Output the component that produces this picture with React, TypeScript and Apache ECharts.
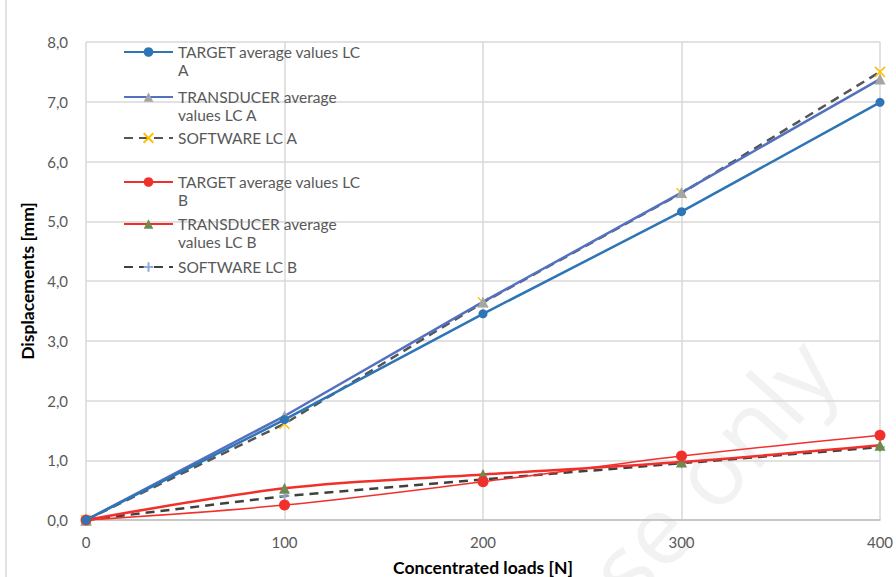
import React, { useEffect, useRef } from "react";
import * as echarts from "echarts";

const loads = [0, 100, 200, 300, 400];
const targetA = [0, 1.68, 3.45, 5.16, 6.99];
const transducerA = [0, 1.74, 3.65, 5.48, 7.38];
const softwareA = [0, 1.61, 3.64, 5.47, 7.5];
const targetB = [0, 0.25, 0.64, 1.07, 1.42];
const transducerB = [0, 0.53, 0.76, 0.97, 1.25];
const softwareB = [0, 0.4, 0.68, 0.95, 1.22];

const seriesNames = [
  "TARGET average values LC A",
  "TARGET average values LC B",
  "TRANSDUCER average values LC A",
  "TRANSDUCER average values LC B",
  "SOFTWARE LC A",
  "SOFTWARE LC B",
];
const legendOrder = [0, 2, 4, 1, 3, 5];
const legendLabels = [
  "TARGET average values LC\nA",
  "TARGET average values LC\nB",
  "TRANSDUCER average\nvalues LC A",
  "TRANSDUCER average\nvalues LC B",
  "SOFTWARE LC A",
  "SOFTWARE LC B",
];
const legendY = [52, 97, 138, 182, 224, 267];

const yTicks = [0, 1, 2, 3, 4, 5, 6, 7, 8];

const FONT = "Lato, 'Open Sans', sans-serif";

const X_PATH = "path://M0 0L10 10M10 0L0 10";
const PLUS_PATH = "path://M5 0L5 10M0 5L10 5";

export default function App() {
  const ref = useRef<HTMLDivElement>(null);
  useEffect(() => {
    if (!ref.current) return;
    const chart = echarts.init(ref.current, undefined, { renderer: "svg" });
    const pair = (arr: number[]) => loads.map((x, i) => [x, arr[i]]);
    const values = [targetA, targetB, transducerA, transducerB, softwareA, softwareB];
    const styles = [
      { color: "#2e75b6", width: 2.5, type: "solid", symbol: "circle", size: 9, mColor: "#2e75b6", border: 0 },
      { color: "#f2302b", width: 1.5, type: "solid", symbol: "circle", size: 11, mColor: "#f2302b", border: 0 },
      { color: "#5470c1", width: 2.5, type: "solid", symbol: "triangle", size: 11, mColor: "#a5a5a5", border: 0 },
      { color: "#f2302b", width: 2.5, type: "solid", symbol: "triangle", size: 11, mColor: "#6f8a4e", border: 0 },
      { color: "#555555", width: 2.5, type: [9, 6], symbol: X_PATH, size: 10, mColor: "#ffc000", border: 1.5 },
      { color: "#404040", width: 2.5, type: [9, 6], symbol: PLUS_PATH, size: 10, mColor: "#8faadc", border: 1.5 },
    ];
    const series = values.map((arr, i) => {
      const s = styles[i];
      return {
        name: seriesNames[i],
        type: "line",
        data: pair(arr),
        smooth: i === 1 || i === 3 ? 0.35 : false,
        symbol: s.symbol,
        symbolSize: s.size,
        showAllSymbol: true,
        lineStyle: { color: s.color, width: s.width, type: s.type },
        itemStyle: {
          color: s.mColor,
          borderColor: s.mColor,
          borderWidth: s.border,
        },
        z: 10 - i,
      };
    });
    const legends = legendOrder.map((si, k) => ({
      data: [seriesNames[si]],
      left: 123,
      top: legendY[k] - 27,
      orient: "vertical",
      padding: 0,
      itemWidth: 49,
      itemHeight: 12,
      itemGap: 5,
      selectedMode: false,
      formatter: () => {
        const lab = legendLabels[si];
        return lab.indexOf("\n") >= 0 ? "\n" + lab : "\n" + lab + "\n";
      },
      textStyle: {
        fontFamily: FONT,
        fontSize: 15.5,
        color: "#595959",
        lineHeight: 18,
        padding: [0, 0, 0, 0],
      },
    }));
    chart.setOption({
      animation: false,
      backgroundColor: "#ffffff",
      grid: { left: 86, right: 16, top: 42, bottom: 57, containLabel: false, outerBoundsMode: "none" },
      xAxis: {
        type: "value",
        min: 0,
        max: 400,
        interval: 100,
        name: "Concentrated loads [N]",
        nameLocation: "middle",
        nameGap: 38,
        nameTextStyle: { fontFamily: FONT, fontSize: 17.5, fontWeight: "bold", color: "#000000" },
        axisLine: { show: true, lineStyle: { color: "#bfbfbf", width: 1.5 } },
        axisTick: { show: false },
        axisLabel: { fontFamily: FONT, fontSize: 15, color: "#595959", margin: 14 },
        splitLine: { show: true, lineStyle: { color: "#d9d9d9", width: 1.5 } },
      },
      yAxis: {
        type: "value",
        min: 0,
        max: 8,
        interval: 1,
        name: "Displacements [mm]",
        nameLocation: "middle",
        nameGap: 48,
        nameTextStyle: { fontFamily: FONT, fontSize: 17.5, fontWeight: "bold", color: "#000000" },
        axisLine: { show: false },
        axisTick: { show: false },
        axisLabel: {
          fontFamily: FONT,
          fontSize: 15,
          color: "#595959",
          margin: 18,
          formatter: (v: number) => (yTicks.indexOf(v) >= 0 ? v.toFixed(1).replace(".", ",") : ""),
        },
        splitLine: { show: true, lineStyle: { color: "#d9d9d9", width: 1.5 } },
      },
      legend: legends,
      graphic: [
        {
          type: "line",
          shape: { x1: 6, y1: 0, x2: 6, y2: 577 },
          style: { stroke: "#d9d9d9", lineWidth: 1.5 },
          z: -10,
        },
        {
          type: "text",
          x: 690,
          y: 490,
          rotation: (48 * Math.PI) / 180,
          z: -10,
          style: {
            text: "use only",
            fontFamily: "'Open Sans', sans-serif",
            fontSize: 96,
            fill: "rgba(0,0,0,0.05)",
            align: "center",
            verticalAlign: "middle",
          },
        },
      ],
      series,
    });
    return () => chart.dispose();
  }, []);
  return <div ref={ref} style={{ width: 896, height: 577, position: "absolute", left: 0, top: 0 }} />;
}
